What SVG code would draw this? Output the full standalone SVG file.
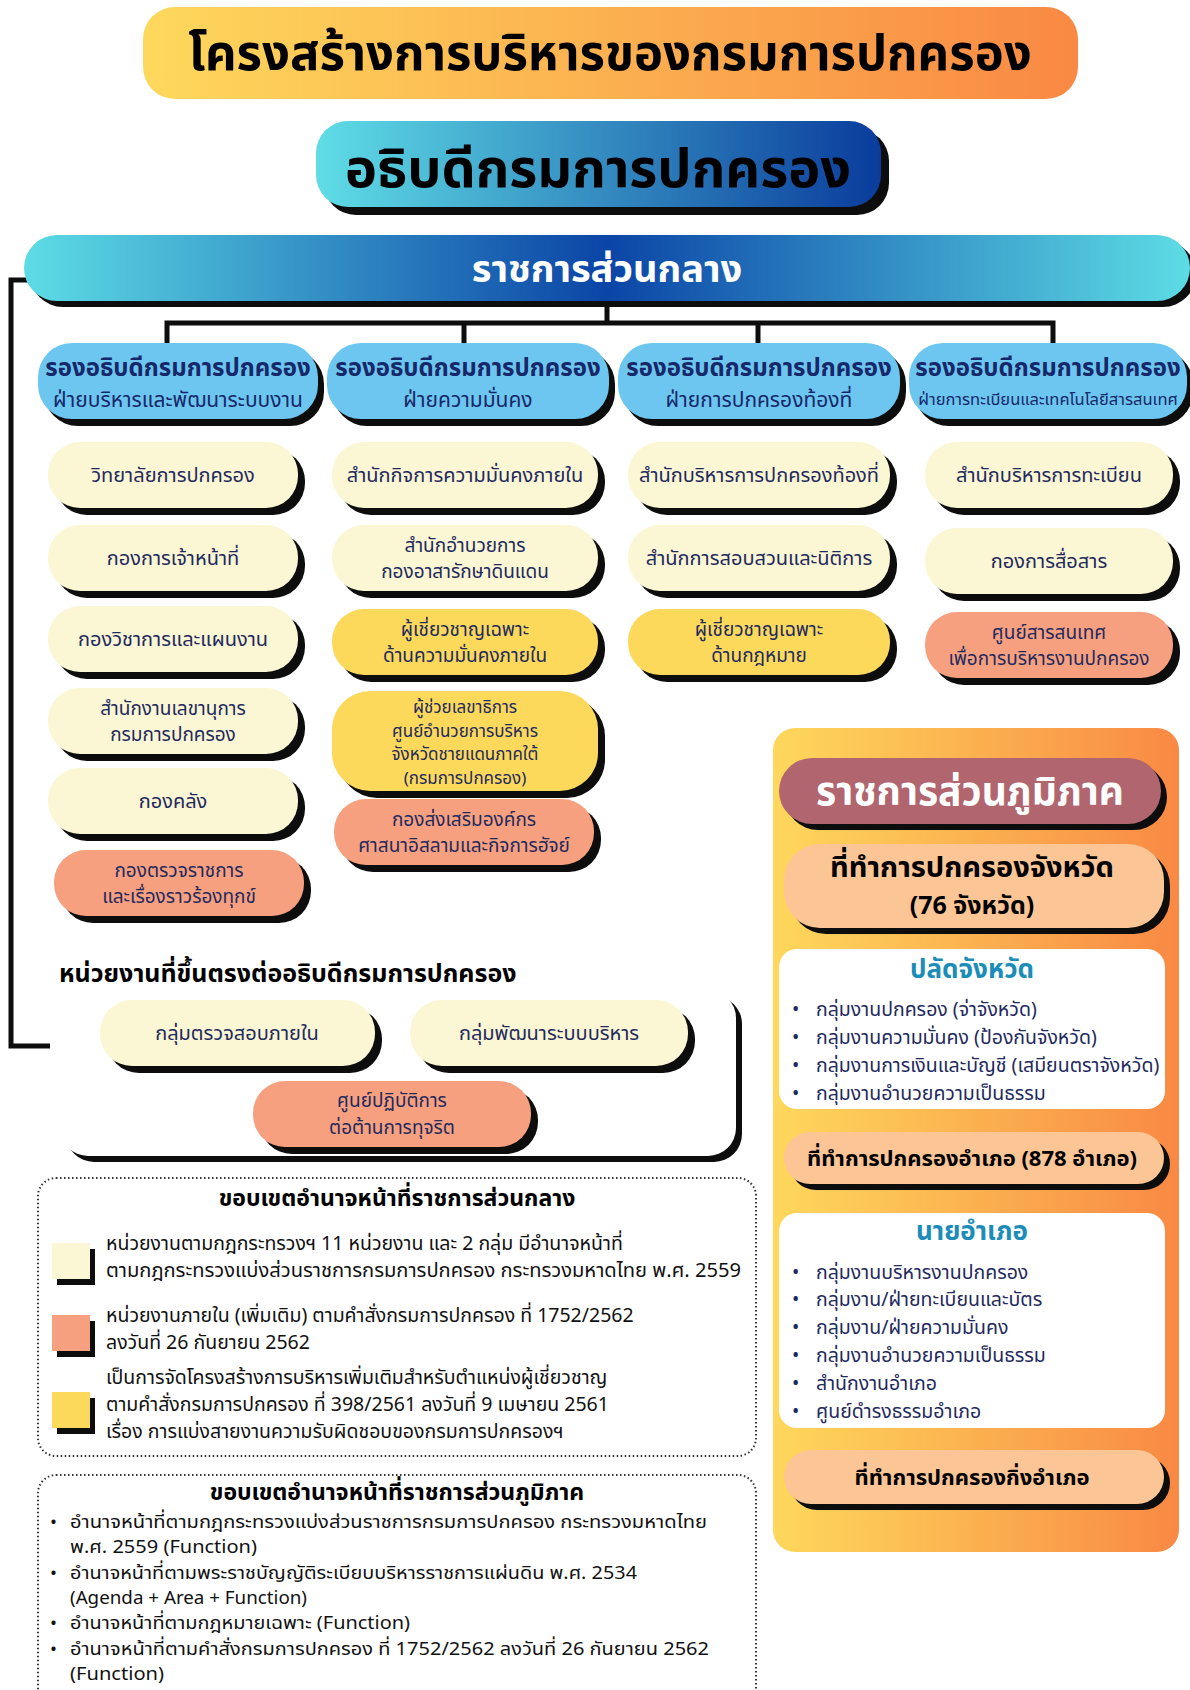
<svg xmlns="http://www.w3.org/2000/svg" width="1190" height="1690" viewBox="0 0 1190 1690">
<defs>
<linearGradient id="gWarm" x1="0" y1="0" x2="1" y2="0"><stop offset="0" stop-color="#fed85c"/><stop offset="1" stop-color="#f98944"/></linearGradient>
<linearGradient id="gDir" x1="0" y1="0" x2="1" y2="0"><stop offset="0" stop-color="#5fdde6"/><stop offset="1" stop-color="#0a3c9c"/></linearGradient>
<linearGradient id="gBar" x1="0" y1="0" x2="1" y2="0"><stop offset="0" stop-color="#5ddce5"/><stop offset="0.5" stop-color="#0b45a6"/><stop offset="1" stop-color="#5ddce5"/></linearGradient>
<style>
text{font-family:"Noto Sans Thai","Noto Sans","DejaVu Sans",sans-serif;}
.sh{fill:#0d0d0d;}
.dep{fill:#6cc6ef;}
.cr{fill:#fbf6d3;}
.ye{fill:#fcd95b;}
.sa{fill:#f7a07f;}
.pe{fill:#fbc596;}
.wh{fill:#ffffff;}
.c{text-anchor:middle;}
.t1{font-size:24px;font-weight:700;fill:#16286a;}
.t2{font-size:21px;fill:#16286a;}
.u{font-size:20px;fill:#1f2a5e;text-anchor:middle;}
.u2{font-size:19px;fill:#1f2a5e;text-anchor:middle;}
.u4{font-size:17px;fill:#1f2a5e;text-anchor:middle;}
.hb{font-weight:700;fill:#000;text-anchor:middle;}
.li{font-size:19.5px;fill:#1f2a5e;}
.lg{font-size:19.5px;fill:#111;}
.lg2{font-size:18.5px;fill:#111;}
.st{font-size:26px;font-weight:700;fill:#1b8db8;text-anchor:middle;}
.ln{fill:none;stroke:#0d0d0d;stroke-width:5;}
</style>
</defs>
<rect width="1190" height="1690" fill="#ffffff"/>

<g id="title">
<rect x="143" y="7" width="935" height="92" rx="32" fill="url(#gWarm)"/>
<text x="610" y="70" class="hb" font-size="49">โครงสร้างการบริหารของกรมการปกครอง</text>
</g>

<g id="director">
<rect x="324" y="129" width="565" height="86" rx="32" class="sh"/>
<rect x="316" y="121" width="565" height="86" rx="32" fill="url(#gDir)"/>
<text x="598" y="187" class="hb" font-size="54">อธิบดีกรมการปกครอง</text>
</g>

<g id="connectors">
<path class="ln" d="M28 280 H11 V1046 H50"/>
<path class="ln" d="M607 300 V323"/>
<path class="ln" d="M167 345 V323 H1053 V345"/>
<path class="ln" d="M464 323 V345"/>
<path class="ln" d="M758 323 V345"/>
</g>

<g id="central">
<rect x="30" y="241" width="1166" height="66" rx="33" class="sh"/>
<rect x="24" y="235" width="1166" height="66" rx="33" fill="url(#gBar)"/>
<text x="607" y="282" class="hb" font-size="38" style="fill:#fff">ราชการส่วนกลาง</text>
</g>

<g id="dep1">
<rect x="44" y="350" width="280" height="76" rx="34" class="sh"/>
<rect x="38" y="343" width="280" height="76" rx="34" class="dep"/>
<text x="178" y="376" class="t1 c">รองอธิบดีกรมการปกครอง</text>
<text x="178" y="407" class="t2 c">ฝ่ายบริหารและพัฒนาระบบงาน</text>
</g>
<g id="dep2">
<rect x="333" y="350" width="282" height="76" rx="34" class="sh"/>
<rect x="327" y="343" width="282" height="76" rx="34" class="dep"/>
<text x="468" y="376" class="t1 c">รองอธิบดีกรมการปกครอง</text>
<text x="468" y="407" class="t2 c">ฝ่ายความมั่นคง</text>
</g>
<g id="dep3">
<rect x="624" y="350" width="282" height="76" rx="34" class="sh"/>
<rect x="618" y="343" width="282" height="76" rx="34" class="dep"/>
<text x="759" y="376" class="t1 c">รองอธิบดีกรมการปกครอง</text>
<text x="759" y="407" class="t2 c">ฝ่ายการปกครองท้องที่</text>
</g>
<g id="dep4">
<rect x="915" y="350" width="278" height="76" rx="34" class="sh"/>
<rect x="909" y="343" width="278" height="76" rx="34" class="dep"/>
<text x="1048" y="376" class="t1 c">รองอธิบดีกรมการปกครอง</text>
<text x="1048" y="405" class="t2 c" style="font-size:16.5px">ฝ่ายการทะเบียนและเทคโนโลยีสารสนเทศ</text>
</g>

<!-- column 1 -->
<g id="u1a"><rect x="55" y="449" width="250" height="66" rx="32" class="sh"/><rect x="48" y="442" width="250" height="66" rx="32" class="cr"/><text x="173" y="482" class="u">วิทยาลัยการปกครอง</text></g>
<g id="u1b"><rect x="55" y="532" width="250" height="66" rx="32" class="sh"/><rect x="48" y="525" width="250" height="66" rx="32" class="cr"/><text x="173" y="565" class="u">กองการเจ้าหน้าที่</text></g>
<g id="u1c"><rect x="55" y="613" width="250" height="66" rx="32" class="sh"/><rect x="48" y="606" width="250" height="66" rx="32" class="cr"/><text x="173" y="646" class="u">กองวิชาการและแผนงาน</text></g>
<g id="u1d"><rect x="55" y="695" width="250" height="66" rx="32" class="sh"/><rect x="48" y="688" width="250" height="66" rx="32" class="cr"/><text x="173" y="715" class="u2">สำนักงานเลขานุการ</text><text x="173" y="741" class="u2">กรมการปกครอง</text></g>
<g id="u1e"><rect x="55" y="775" width="250" height="66" rx="32" class="sh"/><rect x="48" y="768" width="250" height="66" rx="32" class="cr"/><text x="173" y="808" class="u">กองคลัง</text></g>
<g id="u1f"><rect x="61" y="857" width="250" height="66" rx="32" class="sh"/><rect x="54" y="850" width="250" height="66" rx="32" class="sa"/><text x="179" y="877" class="u2">กองตรวจราชการ</text><text x="179" y="903" class="u2">และเรื่องราวร้องทุกข์</text></g>

<!-- column 2 -->
<g id="u2a"><rect x="339" y="449" width="266" height="66" rx="32" class="sh"/><rect x="332" y="442" width="266" height="66" rx="32" class="cr"/><text x="465" y="482" class="u">สำนักกิจการความมั่นคงภายใน</text></g>
<g id="u2b"><rect x="339" y="532" width="266" height="66" rx="32" class="sh"/><rect x="332" y="525" width="266" height="66" rx="32" class="cr"/><text x="465" y="552" class="u2">สำนักอำนวยการ</text><text x="465" y="578" class="u2">กองอาสารักษาดินแดน</text></g>
<g id="u2c"><rect x="339" y="616" width="266" height="66" rx="32" class="sh"/><rect x="332" y="609" width="266" height="66" rx="32" class="ye"/><text x="465" y="636" class="u2">ผู้เชี่ยวชาญเฉพาะ</text><text x="465" y="662" class="u2">ด้านความมั่นคงภายใน</text></g>
<g id="u2d"><rect x="339" y="698" width="266" height="100" rx="38" class="sh"/><rect x="332" y="691" width="266" height="100" rx="38" class="ye"/><text x="465" y="713" class="u4">ผู้ช่วยเลขาธิการ</text><text x="465" y="736.5" class="u4">ศูนย์อำนวยการบริหาร</text><text x="465" y="760" class="u4">จังหวัดชายแดนภาคใต้</text><text x="465" y="783.5" class="u4">(กรมการปกครอง)</text></g>
<g id="u2e"><rect x="341" y="806" width="260" height="66" rx="32" class="sh"/><rect x="334" y="799" width="260" height="66" rx="32" class="sa"/><text x="464" y="826" class="u2">กองส่งเสริมองค์กร</text><text x="464" y="852" class="u2">ศาสนาอิสลามและกิจการฮัจย์</text></g>

<!-- column 3 -->
<g id="u3a"><rect x="635" y="449" width="262" height="66" rx="32" class="sh"/><rect x="628" y="442" width="262" height="66" rx="32" class="cr"/><text x="759" y="482" class="u">สำนักบริหารการปกครองท้องที่</text></g>
<g id="u3b"><rect x="635" y="532" width="262" height="66" rx="32" class="sh"/><rect x="628" y="525" width="262" height="66" rx="32" class="cr"/><text x="759" y="565" class="u">สำนักการสอบสวนและนิติการ</text></g>
<g id="u3c"><rect x="635" y="616" width="262" height="66" rx="32" class="sh"/><rect x="628" y="609" width="262" height="66" rx="32" class="ye"/><text x="759" y="636" class="u2">ผู้เชี่ยวชาญเฉพาะ</text><text x="759" y="662" class="u2">ด้านกฎหมาย</text></g>

<!-- column 4 -->
<g id="u4a"><rect x="932" y="449" width="248" height="66" rx="32" class="sh"/><rect x="925" y="442" width="248" height="66" rx="32" class="cr"/><text x="1049" y="482" class="u">สำนักบริหารการทะเบียน</text></g>
<g id="u4b"><rect x="932" y="535" width="248" height="66" rx="32" class="sh"/><rect x="925" y="528" width="248" height="66" rx="32" class="cr"/><text x="1049" y="568" class="u">กองการสื่อสาร</text></g>
<g id="u4c"><rect x="932" y="619" width="248" height="66" rx="32" class="sh"/><rect x="925" y="612" width="248" height="66" rx="32" class="sa"/><text x="1049" y="639" class="u2">ศูนย์สารสนเทศ</text><text x="1049" y="665" class="u2">เพื่อการบริหารงานปกครอง</text></g>

<!-- direct units -->
<g id="direct">
<rect x="66" y="996" width="676" height="166" rx="28" class="sh"/>
<rect x="60" y="990" width="676" height="166" rx="28" class="wh"/>
<text x="59" y="982" font-size="25" font-weight="700" fill="#000">หน่วยงานที่ขึ้นตรงต่ออธิบดีกรมการปกครอง</text>
</g>
<g id="d1"><rect x="107" y="1007" width="275" height="66" rx="32" class="sh"/><rect x="100" y="1000" width="275" height="66" rx="32" class="cr"/><text x="237" y="1040" class="u">กลุ่มตรวจสอบภายใน</text></g>
<g id="d2"><rect x="417" y="1007" width="278" height="66" rx="32" class="sh"/><rect x="410" y="1000" width="278" height="66" rx="32" class="cr"/><text x="549" y="1040" class="u">กลุ่มพัฒนาระบบบริหาร</text></g>
<g id="d3"><rect x="260" y="1088" width="278" height="66" rx="32" class="sh"/><rect x="253" y="1081" width="278" height="66" rx="32" class="sa"/><text x="392" y="1107" class="u2">ศูนย์ปฏิบัติการ</text><text x="392" y="1134" class="u2">ต่อต้านการทุจริต</text></g>

<!-- regional -->
<g id="regional">
<rect x="773" y="728" width="406" height="824" rx="22" fill="url(#gWarm)"/>
</g>
<g id="r1"><rect x="785" y="764" width="382" height="66" rx="33" class="sh"/><rect x="779" y="758" width="382" height="66" rx="33" fill="#b0656f"/><text x="970" y="805" class="hb" font-size="39" style="fill:#fff">ราชการส่วนภูมิภาค</text></g>
<g id="r2"><rect x="790" y="850" width="380" height="84" rx="36" class="sh"/><rect x="784" y="844" width="380" height="84" rx="36" class="pe"/><text x="972" y="877" class="hb" font-size="29">ที่ทำการปกครองจังหวัด</text><text x="972" y="914" class="hb" font-size="25">(76 จังหวัด)</text></g>
<g id="r3">
<rect x="779" y="949" width="386" height="160" rx="18" class="wh"/>
<text x="972" y="978" class="st">ปลัดจังหวัด</text>
<text x="792" y="1016" class="li">•</text><text x="816" y="1016" class="li">กลุ่มงานปกครอง (จ่าจังหวัด)</text>
<text x="792" y="1044" class="li">•</text><text x="816" y="1044" class="li">กลุ่มงานความมั่นคง (ป้องกันจังหวัด)</text>
<text x="792" y="1072" class="li">•</text><text x="816" y="1072" class="li">กลุ่มงานการเงินและบัญชี (เสมียนตราจังหวัด)</text>
<text x="792" y="1100" class="li">•</text><text x="816" y="1100" class="li">กลุ่มงานอำนวยความเป็นธรรม</text>
</g>
<g id="r4"><rect x="790" y="1138" width="380" height="52" rx="26" class="sh"/><rect x="784" y="1132" width="380" height="52" rx="26" class="pe"/><text x="972" y="1166" class="hb" font-size="22">ที่ทำการปกครองอำเภอ (878 อำเภอ)</text></g>
<g id="r5">
<rect x="779" y="1213" width="386" height="215" rx="18" class="wh"/>
<text x="972" y="1240" class="st">นายอำเภอ</text>
<text x="792" y="1279" class="li">•</text><text x="816" y="1279" class="li">กลุ่มงานบริหารงานปกครอง</text>
<text x="792" y="1306" class="li">•</text><text x="816" y="1306" class="li">กลุ่มงาน/ฝ่ายทะเบียนและบัตร</text>
<text x="792" y="1334" class="li">•</text><text x="816" y="1334" class="li">กลุ่มงาน/ฝ่ายความมั่นคง</text>
<text x="792" y="1362" class="li">•</text><text x="816" y="1362" class="li">กลุ่มงานอำนวยความเป็นธรรม</text>
<text x="792" y="1390" class="li">•</text><text x="816" y="1390" class="li">สำนักงานอำเภอ</text>
<text x="792" y="1418" class="li">•</text><text x="816" y="1418" class="li">ศูนย์ดำรงธรรมอำเภอ</text>
</g>
<g id="r6"><rect x="790" y="1456" width="380" height="54" rx="27" class="sh"/><rect x="784" y="1450" width="380" height="54" rx="27" class="pe"/><text x="972" y="1485" class="hb" font-size="22">ที่ทำการปกครองกิ่งอำเภอ</text></g>

<!-- legend 1 -->
<g id="legend1">
<rect x="38" y="1178" width="718" height="278" rx="18" fill="none" stroke="#333" stroke-width="2" stroke-dasharray="1.5 2.5"/>
<text x="397" y="1206" class="hb" font-size="23">ขอบเขตอำนาจหน้าที่ราชการส่วนกลาง</text>
<rect x="57" y="1249" width="38" height="36" class="sh"/><rect x="52" y="1243" width="38" height="36" class="cr"/>
<rect x="57" y="1321" width="38" height="36" class="sh"/><rect x="52" y="1315" width="38" height="36" class="sa"/>
<rect x="57" y="1398" width="38" height="36" class="sh"/><rect x="52" y="1392" width="38" height="36" class="ye"/>
<text x="106" y="1250" class="lg">หน่วยงานตามกฎกระทรวงฯ 11 หน่วยงาน และ 2 กลุ่ม มีอำนาจหน้าที่</text>
<text x="106" y="1277" class="lg" textLength="635" lengthAdjust="spacingAndGlyphs">ตามกฎกระทรวงแบ่งส่วนราชการกรมการปกครอง กระทรวงมหาดไทย พ.ศ. 2559</text>
<text x="106" y="1322" class="lg">หน่วยงานภายใน (เพิ่มเติม) ตามคำสั่งกรมการปกครอง ที่ 1752/2562</text>
<text x="106" y="1349" class="lg">ลงวันที่ 26 กันยายน 2562</text>
<text x="106" y="1384" class="lg">เป็นการจัดโครงสร้างการบริหารเพิ่มเติมสำหรับตำแหน่งผู้เชี่ยวชาญ</text>
<text x="106" y="1411" class="lg">ตามคำสั่งกรมการปกครอง ที่ 398/2561 ลงวันที่ 9 เมษายน 2561</text>
<text x="106" y="1438" class="lg">เรื่อง การแบ่งสายงานความรับผิดชอบของกรมการปกครองฯ</text>
</g>

<!-- legend 2 -->
<g id="legend2">
<rect x="38" y="1475" width="718" height="240" rx="18" fill="none" stroke="#333" stroke-width="2" stroke-dasharray="1.5 2.5"/>
<text x="397" y="1500" class="hb" font-size="23">ขอบเขตอำนาจหน้าที่ราชการส่วนภูมิภาค</text>
<text x="50" y="1528" class="lg2">•</text><text x="70" y="1528" class="lg2" textLength="637" lengthAdjust="spacingAndGlyphs">อำนาจหน้าที่ตามกฎกระทรวงแบ่งส่วนราชการกรมการปกครอง กระทรวงมหาดไทย</text>
<text x="70" y="1553.3" class="lg2" textLength="187" lengthAdjust="spacingAndGlyphs">พ.ศ. 2559 (Function)</text>
<text x="50" y="1578.6" class="lg2">•</text><text x="70" y="1578.6" class="lg2" textLength="567" lengthAdjust="spacingAndGlyphs">อำนาจหน้าที่ตามพระราชบัญญัติระเบียบบริหารราชการแผ่นดิน พ.ศ. 2534</text>
<text x="70" y="1603.9" class="lg2" textLength="237" lengthAdjust="spacingAndGlyphs">(Agenda + Area + Function)</text>
<text x="50" y="1629.2" class="lg2">•</text><text x="70" y="1629.2" class="lg2" textLength="340" lengthAdjust="spacingAndGlyphs">อำนาจหน้าที่ตามกฎหมายเฉพาะ (Function)</text>
<text x="50" y="1654.5" class="lg2">•</text><text x="70" y="1654.5" class="lg2" textLength="639" lengthAdjust="spacingAndGlyphs">อำนาจหน้าที่ตามคำสั่งกรมการปกครอง ที่ 1752/2562 ลงวันที่ 26 กันยายน 2562</text>
<text x="70" y="1679.8" class="lg2" textLength="94" lengthAdjust="spacingAndGlyphs">(Function)</text>
</g>
</svg>
